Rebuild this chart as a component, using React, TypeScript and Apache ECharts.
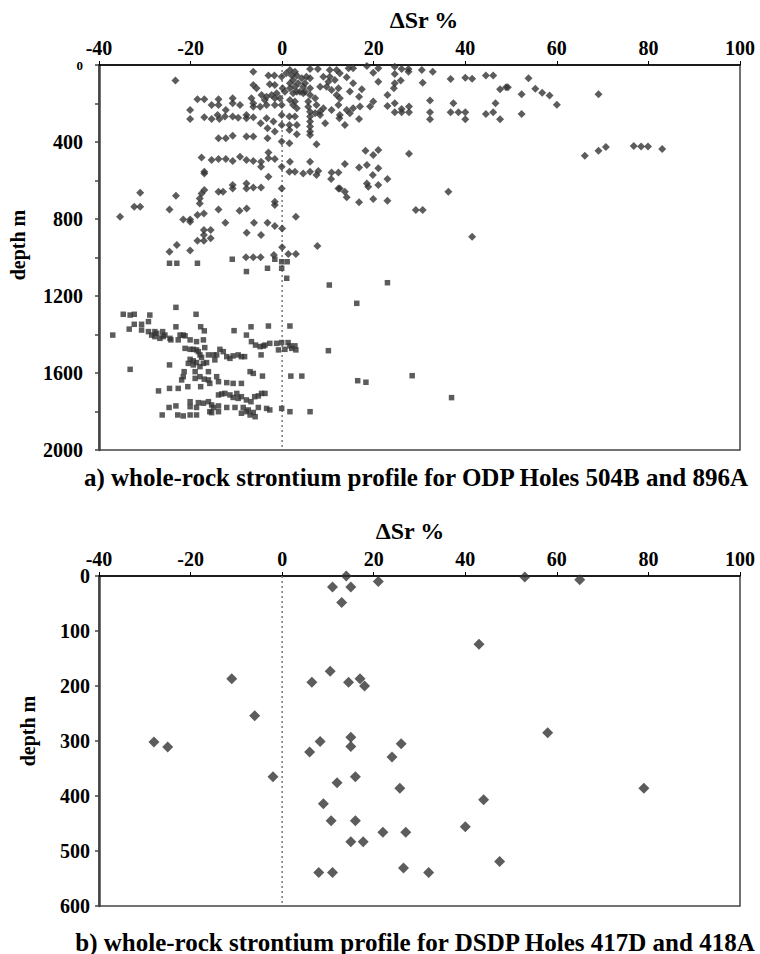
import React, { useEffect, useRef } from "react";
import * as echarts from "echarts";

// ---------- DATA ----------
// Panel a: ODP Holes 504B and 896A  [ΔSr %, depth m]
const diamondPtsA: number[][] = [
  [-6.3,35],[-3.0,55],[-1.7,55],[-0.1,61],[1.7,26],[2.8,35],[2.1,55],[3.2,55],[4.3,69],[6.1,21],[7.8,21],[6.1,69],[10.4,26],[11.9,26],[10.4,61],[11.5,78],[-23.3,81],
  [0.9,43],[2.4,78],[3.5,95],[5.0,95],[5.3,61],[9.0,61],[10.1,87],[1.7,95],[4.6,113],[1.7,182],[2.8,190],[2.4,208],[5.7,190],[7.5,208],[8.3,242],
  [-6.3,104],[-5.6,121],[-2.7,100],[-1.6,104],[0.1,121],[1.7,121],[2.8,113],[3.9,139],[5.0,139],[6.1,121],[8.3,113],[9.7,113],[10.8,130],[12.3,121],
  [-4.5,156],[-3.4,165],[-2.3,156],[-1.2,147],[-3.8,182],[-1.6,173],[-0.5,173],[0.6,139],[2.4,147],[3.2,139],[4.6,147],[6.1,156],[7.2,173],[11.9,156],
  [-18.5,178],[-17.0,178],[-13.9,178],[-10.8,173],[-6.7,173],[-6.3,199],
  [-15.4,208],[-13.9,208],[-12.3,234],[-10.8,199],[-9.2,208],[-6.3,217],[-4.8,217],[-3.4,208],[-1.6,208],[-0.1,208],[3.2,225],[5.7,217],[9.0,225],[10.8,234],[12.3,208],
  [-20.1,234],[-20.1,281],[-17.0,272],[-15.4,281],[-14.1,260],[-13.7,281],[-12.5,268],[-10.8,268],[-9.6,274],[-7.8,260],[-7.8,277],[-6.3,272],[-4.7,303],[-3.4,277],[-0.1,260],[1.6,268],[2.8,268],[6.1,243],[6.1,268],[7.2,251],[8.3,260],[9.4,303],[12.5,277],
  [-3.2,329],[-1.9,294],[-0.1,312],[1.6,312],[1.6,338],[3.2,312],[3.2,360],[-1.6,346],[-0.1,398],[1.6,407],[6.1,294],[6.1,320],[6.1,346],[6.1,364],[7.5,412],
  [-13.9,381],[-12.3,381],[-10.8,367],[-7.8,372],[-6.3,372],[-3.2,381],
  [-17.6,480],[-15.4,494],[-13.9,488],[-12.3,488],[-10.8,499],[-9.2,476],[-7.8,494],[-6.3,499],[-4.6,502],[-4.6,528],[-3.0,454],[-3.0,485],[-1.6,488],[-0.1,528],[1.7,502],[1.6,554],[2.8,554],[4.6,563],[6.1,502],[6.1,554],[7.9,551],[7.5,572],[10.8,558],[12.3,558],[10.7,592],[12.3,641],[-17.0,554],[-17.0,563],
  [-3.0,580],[-0.1,641],[-10.8,623],[-10.8,641],[-13.9,658],[-12.9,658],[-7.8,615],[-7.8,641],[-6.3,637],[-4.6,637],[-17.0,649],[-17.6,667],[-18.0,693],[-18.0,719],[-31.0,663],[-23.2,679],[-1.6,710],
  [14.5,17],[15.5,17],[18.5,5],[21.0,17],[12.6,43],[14.1,64],[15.5,95],[14.8,138],[17.4,126],[19.9,40],[21.0,87],[12.6,173],[16.8,165],[19.9,190],[19.2,216],[12.6,260],[14.1,234],[14.8,251],[15.5,225],[17.0,216],[16.8,280],[13.7,312],[18.2,445],[19.9,468],[21.0,442],[13.7,514],[16.8,532],[18.5,519],[19.8,571],[21.0,537],[12.6,641],[13.7,658],[14.1,687],[16.8,713],[18.5,615],[18.8,632],[19.9,696],[21.0,623],
  [24.6,9],[26.1,21],[27.6,21],[27.6,35],[30.5,26],[32.9,35],[24.6,47],[25.9,81],[24.6,95],[24.4,121],[30.7,92],[23.0,156],[36.8,73],[40.0,66],[41.5,71],[44.5,55],[46.1,55],[53.8,69],[47.6,126],[48.9,116],[49.3,116],[55.3,123],[56.8,144],[58.4,158],[52.3,152],[60.0,206],[69.1,152],[23.0,213],[24.6,199],[24.6,246],[26.1,246],[26.1,229],[27.7,216],[27.7,246],[32.3,185],[32.3,246],[32.3,282],[37.4,199],[36.8,246],[38.5,246],[40.0,246],[40.0,282],[44.5,255],[46.1,246],[46.6,199],[47.6,282],[52.3,255],[27.7,461],[66.1,471],[69.1,445],[70.7,426],[76.8,421],[78.4,424],[79.9,424],[83.0,436],[23.0,592],[23.0,705],[36.3,658],[29.2,753],[30.7,753],[41.5,892],
  [-35.4,788],[-32.3,736],[-31.0,736],[-24.6,750],[-21.6,802],[-20.1,802],[-20.1,814],[-18.5,779],[-17.1,771],[-17.1,857],[-15.6,857],[-17.1,883],[-18.5,913],[-17.1,913],[-15.6,900],[-13.9,750],[-12.4,819],[-9.3,757],[-7.75,745],[-7.75,871],[-4.6,883],[-6.15,819],[-3.2,819],[-1.6,727],[-1.6,836],[0,849],[0,947],[3.0,788],[7.7,940],[-24.6,970],[-23.0,935],[-20.1,964],[-7.9,999],[-6.3,999],[-4.7,999],[-1.8,987],[1.35,982],[3.0,982]
];

const squarePtsA: number[][] = [
  [-24.6,1030],[-23.0,1030],[-18.5,1030],[-10.9,1009],[-7.8,1073],[-3.2,1056],[-1.6,1009],[-0.1,1022],[-0.1,1056],[1.1,1022],[1.0,1108],[10.3,1143],[16.3,1238],[23.0,1131],
  [-23.2,1259],[-34.7,1295],[-33.2,1299],[-32.3,1295],[-28.9,1299],[-29.2,1333],[-18.8,1295],[-32.3,1347],[-30.7,1347],[-33.4,1372],[-30.7,1377],[-29.2,1385],[-27.8,1385],[-27.4,1394],[-26.1,1385],[-25.6,1403],[-28.5,1403],[-27.8,1411],[-26.7,1420],[-26.0,1411],[-37.0,1403],[-23.2,1360],[-17.8,1360],[-17.0,1381],[-24.5,1420],[-24.3,1428],[-22.7,1428],[-22.3,1403],[-21.6,1403],[-21.2,1407],[-20.1,1428],[-18.7,1437],[-17.2,1428],
  [-21.2,1472],[-20.1,1477],[-19.4,1477],[-18.7,1480],[-18.3,1489],[-17.95,1506],[-17.6,1519],[-16.9,1468],[-20.1,1529],[-19.4,1537],[-20.5,1550],[-19.4,1558],[-18.7,1546],[-17.95,1567],[-17.2,1550],[-16.5,1546],[-16.1,1506],[-15.0,1506],[-14.3,1506],[-14.7,1532],[-13.6,1477],[-12.85,1489],[-12.1,1515],[-11.4,1524],[-10.7,1511],[-9.6,1506],[-8.9,1515],[-8.2,1515],[-24.6,1558],[-33.2,1581],[-21.4,1593],[-21.6,1619],[-21.95,1636],[-19.0,1593],[-19.0,1628],[-17.95,1619],[-17.0,1632],[-16.1,1636],[-15.8,1654],[-16.1,1593],[-14.3,1619],[-13.9,1645],[-12.1,1650],[-10.7,1654],[-8.9,1654],[-20.6,1671],[-17.8,1671],[-27.0,1693],[-24.6,1680],[-22.7,1680],[-7.0,1593],[-6.3,1602],[-4.3,1616],[-7.8,1403],[-10.5,1380],[-6.8,1360],[-3.0,1356],[-6.7,1437],[-5.8,1455],[-4.8,1463],[-4.1,1460],[-3.75,1455],[-2.7,1446],[-4.6,1506],[-1.2,1446],[-0.1,1442],[-0.8,1480],[0.6,1477],[1.3,1442],[1.7,1459],[2.1,1472],[3.0,1480],[2.8,1459],[1.7,1356],[1.9,1616],[4.3,1616],[-0.1,1784],[1.7,1801],[6.1,1801],[-2.7,1792],[10.1,1484],
  [-13.9,1714],[-13.2,1709],[-12.5,1706],[-11.4,1714],[-9.9,1706],[-10.7,1727],[-9.6,1732],[-8.9,1723],[-7.8,1740],[-6.8,1749],[-6.0,1723],[-5.2,1719],[-4.5,1706],[-3.75,1706],[-20.1,1749],[-18.3,1754],[-20.1,1775],[-18.7,1779],[-17.2,1757],[-16.1,1749],[-15.4,1766],[-15.0,1779],[-15.8,1801],[-13.9,1771],[-24.7,1779],[-23.2,1771],[-22.8,1818],[-21.6,1823],[-20.1,1818],[-18.7,1818],[-26.2,1818],[-12.1,1779],[-10.3,1779],[-8.5,1779],[-7.4,1792],[-6.3,1805],[-5.9,1827],[-5.2,1779],[-3.4,1784],[-15.4,1806],[-13.9,1801],[-7.8,1801],[-7.0,1818],[-8.9,1809],
  [16.5,1640],[18.3,1648],[28.4,1614],[37.0,1728]
];

// Panel b: DSDP Holes 417D and 418A  [ΔSr %, depth m]
const diamondPtsB: number[][] = [
  [14,0],[11,20],[15,20],[13,48],[21,10],[53,2],[65,7],[43,124],
  [-11,187],[6.5,193],[10.5,173],[14.5,193],[17,187],[18,200],
  [-6,254],[-28,302],[-25,311],[58,285],[26,305],[24,329],
  [6,320],[8.3,301],[15,293],[15,310],[-2,365],[16,365],[12,376],[25.7,386],[79,386],
  [9,414],[44,407],[10.7,445],[16,445],[40,456],[22,466],[27,466],
  [15,483],[17.7,483],[47.5,519],[26.5,531],[8,539],[11,539],[32,539]
];

// Zero reference lines
const zeroLineA: number[][] = [[0, 0], [0, 2000]];
const zeroLineB: number[][] = [[0, 0], [0, 600]];

// Axis settings
const xMin = -40, xMax = 100, xStep = 20;
const depthMaxA = 2000, depthStepA = 200, depthLabelStepA = 400;
const depthMaxB = 600, depthStepB = 100;

const axisTitle = "ΔSr %";
const depthTitle = "depth m";
const captionA = "a) whole-rock strontium profile for ODP Holes 504B and 896A";
const captionB = "b) whole-rock strontium profile for DSDP Holes 417D and 418A";

const FONT = "Liberation Serif";
const INK = "#333333";

export default function App() {
  const ref = useRef<HTMLDivElement>(null);

  useEffect(() => {
    if (!ref.current) return;
    const chart = echarts.init(ref.current, undefined, { renderer: "svg" });

    const labelStyle = {
      fontFamily: FONT,
      fontWeight: "bold" as const,
      fontSize: 20,
      color: "#000",
    };

    const textStyle = (size: number) => ({
      fontFamily: FONT,
      fontWeight: "bold",
      fontSize: size,
      fill: "#000",
      align: "center",
      verticalAlign: "middle",
    });

    const makeX = (gridIndex: number) => ({
      type: "value" as const,
      gridIndex,
      position: "top" as const,
      min: xMin,
      max: xMax,
      interval: xStep,
      splitLine: { show: false },
      axisLine: { show: true, onZero: false, lineStyle: { color: "#000", width: 1.5 } },
      axisTick: { show: true, length: 4, lineStyle: { color: "#000", width: 1 } },
      axisLabel: { ...labelStyle, margin: 7 },
    });

    const option: any = {
      animation: false,
      backgroundColor: "#fff",
      textStyle: { fontFamily: FONT },
      grid: [
        { left: 99, top: 65, width: 641, height: 385, show: true, borderColor: "#444", borderWidth: 1.5, backgroundColor: "transparent" },
        { left: 99, top: 576, width: 641, height: 330, show: true, borderColor: "#444", borderWidth: 1.5, backgroundColor: "transparent" },
      ],
      xAxis: [makeX(0), makeX(1)],
      yAxis: [
        {
          type: "value",
          gridIndex: 0,
          inverse: true,
          min: 0,
          max: depthMaxA,
          interval: depthStepA,
          splitLine: { show: false },
          axisLine: { show: true, onZero: false, lineStyle: { color: "#444", width: 2.5 } },
          axisTick: { show: true, length: 4, lineStyle: { color: "#444", width: 1.5 } },
          axisLabel: {
            ...labelStyle,
            margin: 16,
            formatter: (v: number) =>
              v % depthLabelStepA === 0 ? (v === 0 ? "{s|0}" : String(v)) : "",
            rich: { s: { fontFamily: FONT, fontWeight: "bold", fontSize: 13, color: "#000" } },
          },
        },
        {
          type: "value",
          gridIndex: 1,
          inverse: true,
          min: 0,
          max: depthMaxB,
          interval: depthStepB,
          splitLine: { show: false },
          axisLine: { show: true, onZero: false, lineStyle: { color: "#444", width: 2.5 } },
          axisTick: { show: true, length: 4, lineStyle: { color: "#444", width: 1.5 } },
          axisLabel: { ...labelStyle, margin: 9 },
        },
      ],
      series: [
        {
          type: "line",
          xAxisIndex: 0,
          yAxisIndex: 0,
          data: zeroLineA,
          symbol: "none",
          silent: true,
          z: 1,
          lineStyle: { type: [2, 3], color: "#777", width: 1.5 },
        },
        {
          type: "line",
          xAxisIndex: 1,
          yAxisIndex: 1,
          data: zeroLineB,
          symbol: "none",
          silent: true,
          z: 1,
          lineStyle: { type: [2, 3], color: "#777", width: 1.5 },
        },
        {
          name: "squares",
          type: "scatter",
          xAxisIndex: 0,
          yAxisIndex: 0,
          data: squarePtsA,
          symbol: "rect",
          symbolSize: 5.5,
          z: 3,
          itemStyle: { color: INK },
        },
        {
          name: "diamonds",
          type: "scatter",
          xAxisIndex: 0,
          yAxisIndex: 0,
          data: diamondPtsA,
          symbol: "diamond",
          symbolSize: 8,
          z: 3,
          itemStyle: { color: INK },
        },
        {
          name: "DSDP",
          type: "scatter",
          xAxisIndex: 1,
          yAxisIndex: 1,
          data: diamondPtsB,
          symbol: "diamond",
          symbolSize: 11,
          z: 3,
          itemStyle: { color: INK },
        },
      ],
      graphic: [
        { type: "text", x: 424, y: 20, style: { text: axisTitle, ...textStyle(24) } },
        { type: "text", x: 410, y: 531, style: { text: axisTitle, ...textStyle(24) } },
        { type: "text", x: 18, y: 245, rotation: Math.PI / 2, style: { text: depthTitle, ...textStyle(20) } },
        { type: "text", x: 28, y: 731, rotation: Math.PI / 2, style: { text: depthTitle, ...textStyle(20) } },
        { type: "text", x: 416, y: 477, style: { text: captionA, ...textStyle(25) } },
        { type: "text", x: 415, y: 942, style: { text: captionB, ...textStyle(25) } },
      ],
    };

    chart.setOption(option);
    return () => chart.dispose();
  }, []);

  return (
    <div
      ref={ref}
      style={{ position: "absolute", left: 0, top: 0, width: 760, height: 954 }}
    />
  );
}
